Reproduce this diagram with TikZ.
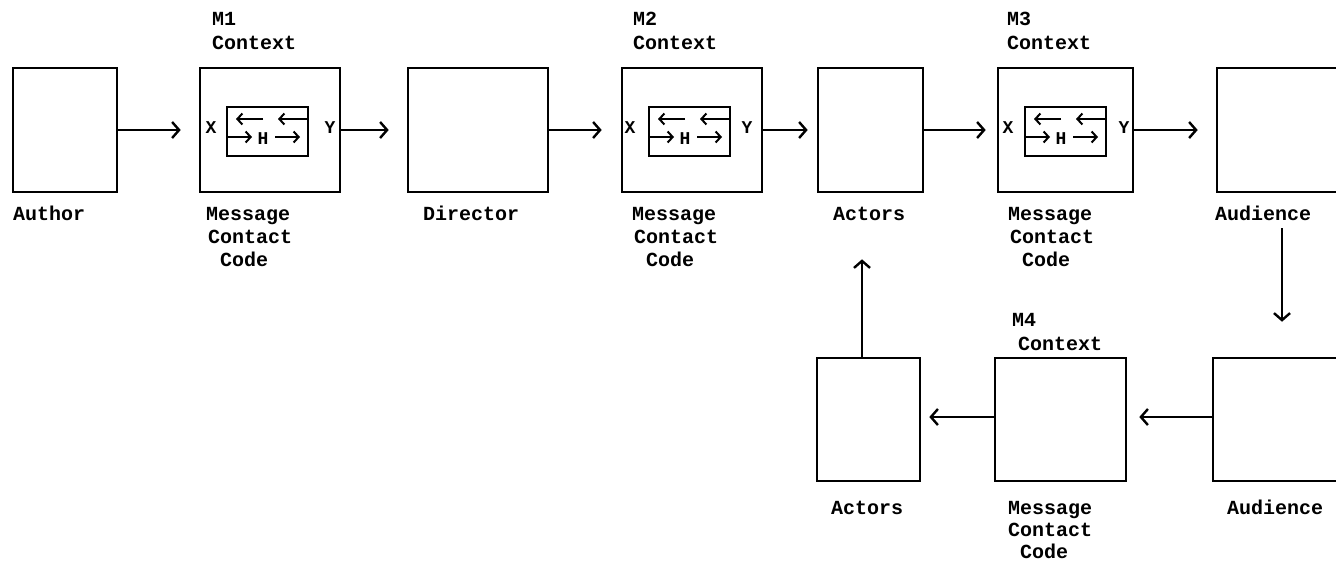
\documentclass[tikz,border=0pt]{standalone}
\usepackage{fontspec}
\setmonofont{Liberation Mono}
\usetikzlibrary{arrows.meta,calc}
\tikzset{
  box/.style={draw, line width=2.6pt, inner sep=0pt, anchor=center},
  inbox/.style={draw, line width=2.2pt, inner sep=0pt, minimum width=81pt, minimum height=49pt},
  arr/.style={line width=2.4pt, -{Straight Barb[length=7pt,width=16pt,line width=2.4pt]}},
  sarr/.style={line width=2pt, -{Straight Barb[length=5pt,width=11pt,line width=2pt]}},
  lbl/.style={anchor=base west, inner sep=0pt, font=\ttfamily\bfseries\fontsize{20}{22}\selectfont},
  sm/.style={anchor=center, inner sep=0pt, font=\ttfamily\bfseries\fontsize{18}{20}\selectfont},
}
\newcommand{\hcore}[3]{% #1 name, #2 left x, #3 top y
  \node[inbox, anchor=north west] (#1) at (#2,#3) {};
  \draw[sarr] ($(#1.north west)+(37,13)$) -- ($(#1.north west)+(10,13)$);
  \draw[sarr] ($(#1.north west)+(81,13)$) -- ($(#1.north west)+(52,13)$);
  \draw[sarr] ($(#1.north west)+(0,31)$) -- ($(#1.north west)+(26,31)$);
  \node[sm] (#1h) at ($(#1.north west)+(37,33)$) {H};
  \draw[sarr] ($(#1.north west)+(49,31)$) -- ($(#1.north west)+(74,31)$);
}
\begin{document}
\begin{tikzpicture}[x=1pt,y=-1pt]
\useasboundingbox (0,0) rectangle (1336,566);
\fill[white] (0,0) rectangle (1336,566);
\begin{scope}
\clip (0,0) rectangle (1336,566);
% row 1 boxes
\node[box, minimum width=104pt, minimum height=124pt] (author) at (65,130) {};
\node[box, minimum width=140pt, minimum height=124pt] (m1) at (270,130) {};
\node[box, minimum width=140pt, minimum height=124pt] (director) at (478,130) {};
\node[box, minimum width=140pt, minimum height=124pt] (m2) at (692,130) {};
\node[box, minimum width=105pt, minimum height=124pt] (actors) at (870.5,130) {};
\node[box, minimum width=135pt, minimum height=124pt] (m3) at (1065.5,130) {};
\node[box, minimum width=140pt, minimum height=124pt] (aud) at (1287,130) {};
% row 2 boxes
\node[box, minimum width=103pt, minimum height=123pt] (actors2) at (868.5,419.5) {};
\node[box, minimum width=131pt, minimum height=123pt] (m4) at (1060.5,419.5) {};
\node[box, minimum width=140pt, minimum height=123pt] (aud2) at (1283,419.5) {};
\end{scope}
% inner cores
\hcore{c1}{226}{106}
\hcore{c2}{648}{106}
\hcore{c3}{1024}{106}
\node[sm] (x1) at (211,128) {X};
\node[sm] (y1) at (330,128) {Y};
\node[sm] (x2) at (630,128) {X};
\node[sm] (y2) at (747,128) {Y};
\node[sm] (x3) at (1008,128) {X};
\node[sm] (y3) at (1124,128) {Y};
% labels above
\node[lbl] (t1a) at (212,25) {M1};
\node[lbl] (t1b) at (212,49) {Context};
\node[lbl] (t2a) at (633,25) {M2};
\node[lbl] (t2b) at (633,49) {Context};
\node[lbl] (t3a) at (1007,25) {M3};
\node[lbl] (t3b) at (1007,49) {Context};
\node[lbl] (t4a) at (1012,326) {M4};
\node[lbl] (t4b) at (1018,350) {Context};
% labels below row 1
\node[lbl] (la) at (13,220) {Author};
\node[lbl] (m1a) at (206,220) {Message};
\node[lbl] (m1b) at (208,243) {Contact};
\node[lbl] (m1c) at (220,266) {Code};
\node[lbl] (ld) at (423,220) {Director};
\node[lbl] (m2a) at (632,220) {Message};
\node[lbl] (m2b) at (634,243) {Contact};
\node[lbl] (m2c) at (646,266) {Code};
\node[lbl] (lac) at (833,220) {Actors};
\node[lbl] (m3a) at (1008,220) {Message};
\node[lbl] (m3b) at (1010,243) {Contact};
\node[lbl] (m3c) at (1022,266) {Code};
\node[lbl] (lau) at (1215,220) {Audience};
% labels below row 2
\node[lbl] (lac2) at (831,514) {Actors};
\node[lbl] (m4a) at (1008,514) {Message};
\node[lbl] (m4b) at (1008,536) {Contact};
\node[lbl] (m4c) at (1020,558) {Code};
\node[lbl] (lau2) at (1227,514) {Audience};
% connectors
\draw[arr, shorten >=18pt] (author.east) -- (m1.west);
\draw[arr, shorten >=18pt] (m1.east) -- (director.west);
\draw[arr, shorten >=19pt] (director.east) -- (m2.west);
\draw[arr, shorten >=9pt] (m2.east) -- (actors.west);
\draw[arr, shorten >=11pt] (actors.east) -- (m3.west);
\draw[arr, shorten >=18pt] (m3.east) -- (aud.west);
\coordinate (dn) at (1282,228);
\draw[arr, shorten >=35pt] (dn) -- (dn |- aud2.north);
\draw[arr, shorten >=12pt] (aud2.west |- 0,417) -- (m4.east |- 0,417);
\draw[arr, shorten >=8pt] (m4.west |- 0,417) -- (actors2.east |- 0,417);
\coordinate (up) at (862,300);
\draw[arr, shorten >=66pt] (up |- actors2.north) -- (up |- actors.south);
\end{tikzpicture}
\end{document}
